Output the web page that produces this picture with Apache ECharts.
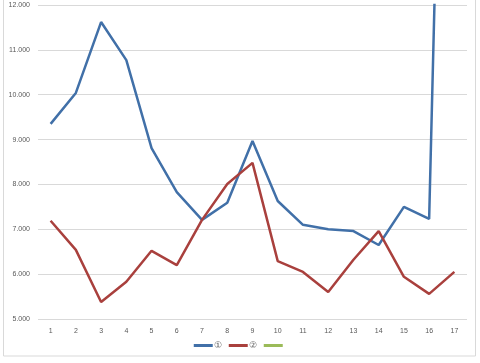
<!DOCTYPE html>
<html><head><meta charset="utf-8">
<script src="https://cdn.jsdelivr.net/npm/echarts@6/dist/echarts.min.js"></script>
<style>html,body{margin:0;padding:0;background:#fff}#c{width:480px;height:363px}</style>
</head><body><div id="c"></div>
<script>
const categories = ['1','2','3','4','5','6','7','8','9','10','11','12','13','14','15','16','17'];
const series1 = [9350,10040,11620,10770,8810,7830,7210,7590,8970,7630,7100,7000,6960,6650,7500,7230,30000];
const series2 = [7190,6540,5380,5830,6520,6200,7210,8010,8480,6290,6050,5600,6320,6960,5940,5560,6050];
const series3 = [];
const names = ['①','②',' '];
const yMin = 5000, yMax = 12000, yStep = 1000;

const chart = echarts.init(document.getElementById('c'), null, {renderer:'canvas'});
const fmt = v => (v/1000).toFixed(3);
chart.setOption({
  animation:false,
  backgroundColor:'#fff',
  graphic:[{type:'rect',shape:{x:3.5,y:-1,width:472,height:357},style:{fill:'none',stroke:'#d9d9d9',lineWidth:1}}],
  grid:{left:38,right:13,top:5,bottom:44},
  legend:{bottom:8,left:'center',itemWidth:19,itemHeight:3,itemGap:7,icon:'rect',
    textStyle:{fontFamily:'Liberation Sans',fontSize:9,color:'#595959',padding:[0,0,0,-4]},
    data:names},
  xAxis:{type:'category',data:categories,boundaryGap:true,
    axisLine:{show:false},axisTick:{show:false},
    axisLabel:{fontFamily:'Liberation Sans',fontSize:7,color:'#595959',margin:9}},
  yAxis:{type:'value',min:yMin,max:yMax,interval:yStep,
    axisLine:{show:false},axisTick:{show:false},
    splitLine:{lineStyle:{color:'#d9d9d9',width:1}},
    axisLabel:{fontFamily:'Liberation Sans',fontSize:7,color:'#595959',margin:8,formatter:fmt}},
  series:[
    {name:names[0],type:'line',data:series1,showSymbol:false,clip:true,lineStyle:{width:2.5,color:'#4170A8'},itemStyle:{color:'#4170A8'}},
    {name:names[1],type:'line',data:series2,showSymbol:false,clip:true,lineStyle:{width:2.5,color:'#A9403D'},itemStyle:{color:'#A9403D'}},
    {name:names[2],type:'line',data:series3,showSymbol:false,lineStyle:{width:2.5,color:'#9BBB59'},itemStyle:{color:'#9BBB59'}}
  ]
});
</script></body></html>
